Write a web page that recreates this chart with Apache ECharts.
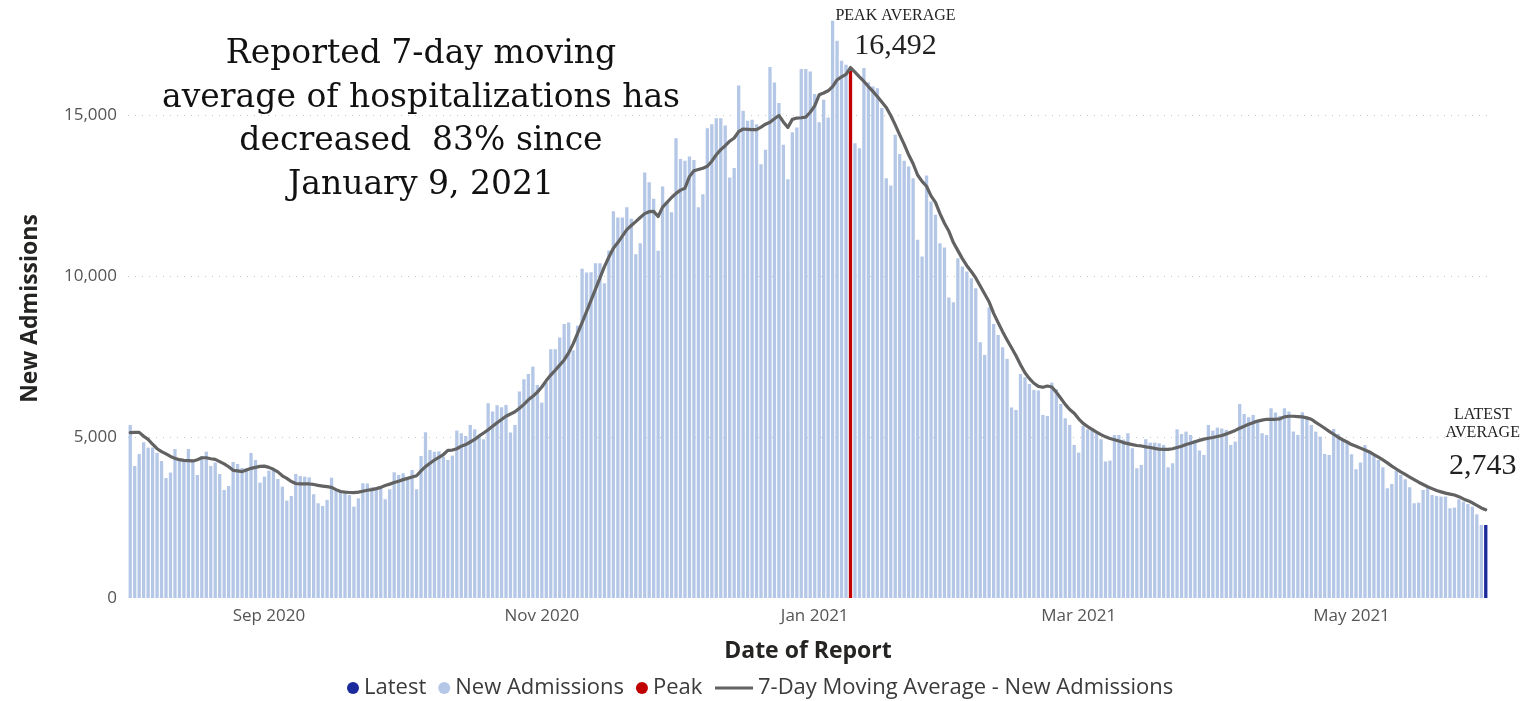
<!DOCTYPE html>
<html>
<head>
<meta charset="utf-8">
<script src="https://cdn.jsdelivr.net/npm/echarts@6/dist/echarts.min.js"></script>
<style>
html,body{margin:0;padding:0;background:#fff;}
#chart{width:1531px;height:701px;}
</style>
</head>
<body>
<div id="chart"></div>
<script>
// ---- data ----
const startDate = '2020-08-01';   // first day of report (304 daily categories)
const dayCount = 304;

const dailyAdmissions = [
5380,4105,4478,4842,4675,4675,4510,4260,3730,3900,
4630,4290,4260,4630,4240,3825,4416,4550,4105,4210,
3856,3360,3483,4230,4167,4043,4043,4510,4290,3587,
3773,3960,3960,3700,3463,3027,3172,3856,3794,3773,
3750,3225,2945,2860,3050,3740,3338,3300,3250,3200,
2840,3100,3567,3560,3442,3450,3480,3070,3380,3908,
3825,3877,3670,3980,3380,4416,5152,4600,4550,4560,
4395,4290,4426,5204,5121,5038,5380,5245,5017,4935,
6055,5795,5992,5930,6002,5142,5380,6417,6800,6966,
7194,6624,6075,6700,7734,7734,8096,8521,8563,7700,
8460,10232,10117,10129,10409,10409,9787,10800,12026,11830,
11830,12150,11787,10690,11030,13230,12928,12410,10792,12790,
12325,11995,14296,13650,13590,13725,13620,12150,12555,14607,
14731,14918,14918,14690,13073,13364,15932,15146,14835,14866,
14731,13488,13933,16505,16026,15385,14088,13021,14483,14628,
16443,16443,16370,15665,14794,15488,14938,17945,17323,16700,
16576,16450,14140,13985,16473,16036,15900,15850,15230,13053,
12822,14400,13800,13590,13415,13053,11134,10615,13135,12325,
11911,11030,10895,9340,9195,10564,10305,10150,9943,9632,
7952,7557,9040,8521,8180,7797,7433,5919,5847,6966,
6863,6655,6469,6448,5691,5660,6696,6490,6033,5587,
5380,4758,4520,5349,5245,5276,5121,4935,4240,4271,
5069,5069,4924,5121,4655,4033,4136,4935,4831,4831,
4810,4758,4064,4188,5245,5100,5173,5069,4914,4582,
4447,5380,5204,5297,5266,5225,4758,4862,6033,5722,
5620,5691,5483,5121,5069,5899,5763,5660,5899,5795,
5173,5069,5774,5620,5380,5173,5017,4478,4447,5256,
5100,4935,4831,4468,4002,4210,4758,4582,4416,4292,
4064,3411,3545,3960,3825,3690,3442,2945,2965,3360,
3411,3203,3172,3152,3152,2790,2810,3070,2996,2923,
2840,2600,2270,2270
];

const movingAverage = [
5140,5150,5150,5030,4930,4780,4640,4550,4480,4400,
4340,4300,4280,4270,4260,4300,4360,4360,4330,4310,
4240,4170,4080,3970,3950,3930,3980,4030,4060,4090,
4100,4060,4000,3920,3800,3720,3620,3560,3550,3545,
3545,3530,3500,3480,3460,3440,3370,3310,3290,3280,
3275,3290,3320,3350,3370,3400,3440,3500,3540,3590,
3630,3680,3720,3760,3800,3950,4085,4190,4290,4375,
4460,4590,4600,4640,4720,4770,4850,4930,5040,5130,
5230,5340,5450,5550,5650,5720,5790,5900,6020,6160,
6270,6400,6560,6760,6930,7080,7240,7400,7620,7900,
8230,8560,8900,9250,9600,9950,10300,10600,10875,11050,
11250,11450,11580,11700,11830,11950,12010,12020,11860,12150,
12300,12450,12580,12680,12740,13100,13280,13320,13360,13420,
13580,13780,13940,14060,14200,14300,14500,14580,14570,14560,
14560,14640,14730,14790,14900,15000,14800,14630,14880,14920,
14930,14950,15100,15300,15643,15700,15768,15900,16110,16200,
16280,16492,16350,16200,16058,15900,15750,15591,15420,15250,
15000,14710,14400,14100,13777,13500,13150,12950,12800,12500,
12300,11950,11650,11400,11050,10800,10550,10330,10150,9950,
9700,9450,9200,8850,8560,8280,8024,7780,7530,7250,
7000,6820,6676,6580,6550,6590,6560,6400,6210,6020,
5860,5744,5570,5430,5330,5245,5160,5080,5010,4960,
4920,4880,4831,4800,4770,4740,4727,4700,4680,4650,
4624,4620,4620,4640,4680,4720,4770,4810,4860,4900,
4940,4966,4990,5020,5050,5100,5150,5210,5276,5340,
5400,5452,5500,5530,5556,5556,5556,5570,5630,5650,
5650,5640,5630,5600,5556,5460,5370,5276,5180,5090,
4997,4920,4850,4770,4720,4660,4600,4540,4460,4380,
4292,4200,4100,4010,3920,3840,3760,3680,3600,3530,
3460,3400,3340,3300,3260,3230,3203,3150,3080,3027,
2960,2880,2800,2743
];

const peakDate = '2021-01-09';
const tickDates  = ['2020-09-01','2020-11-01','2021-01-01','2021-03-01','2021-05-01'];
const tickLabels = ['Sep 2020','Nov 2020','Jan 2021','Mar 2021','May 2021'];
const yTicks = [0, 5000, 10000, 15000];
const titleLines = ['Reported 7-day moving','average of hospitalizations has','decreased  83% since','January 9, 2021'];

// ---- build categories and series ----
const categories = [];
{
  const p = startDate.split('-').map(Number);
  for (let i = 0; i < dayCount; i++) {
    categories.push(new Date(Date.UTC(p[0], p[1]-1, p[2]+i)).toISOString().slice(0,10));
  }
}
const peakIndex = categories.indexOf(peakDate);
const latestIndex = categories.length - 1;
const newSeries = dailyAdmissions.map((v,i) => (i === peakIndex || i === latestIndex) ? null : v);
const peakSeries = dailyAdmissions.map((v,i) => i === peakIndex ? v : null);
const latestSeries = dailyAdmissions.map((v,i) => i === latestIndex ? v : null);
const fmt = v => v.toLocaleString('en-US');

const UI = '"Open Sans", "Noto Sans", sans-serif';
const SERIF = '"DejaVu Serif", "Liberation Serif", serif';
const SERIF2 = '"Liberation Serif", "DejaVu Serif", serif';

const chart = echarts.init(document.getElementById('chart'), null, {renderer:'canvas'});
chart.setOption({
  animation: false,
  backgroundColor: '#ffffff',
  grid: { left: 128, right: 43, top: 19, bottom: 103 },
  legend: [
    {
      data: [
        {name: 'Latest', icon: 'circle'},
        {name: 'New Admissions', icon: 'circle'},
        {name: 'Peak', icon: 'circle'}
      ],
      left: 342, top: 672, itemWidth: 12, itemHeight: 12, itemGap: 12,
      textStyle: {fontFamily: UI, fontSize: 22, color: '#3b3b3b'},
      selectedMode: false
    },
    {
      data: [{name: '7-Day Moving Average - New Admissions',
              icon: 'path://M0,0 L38,0 L38,3 L0,3 Z'}],
      left: 710, top: 672, itemWidth: 38, itemHeight: 12,
      textStyle: {fontFamily: UI, fontSize: 22, color: '#3b3b3b'},
      selectedMode: false
    }
  ],
  xAxis: {
    type: 'category',
    data: categories,
    boundaryGap: true,
    axisLine: {show: false},
    axisTick: {show: false},
    axisLabel: {
      interval: (i, v) => tickDates.indexOf(v) >= 0,
      formatter: v => tickLabels[tickDates.indexOf(v)] || '',
      fontFamily: UI, fontSize: 17, color: '#555555', margin: 10
    },
    name: 'Date of Report',
    nameLocation: 'middle',
    nameGap: 42,
    nameTextStyle: {fontFamily: UI, fontSize: 23, fontWeight: 'bold', color: '#252423'}
  },
  yAxis: {
    type: 'value',
    min: 0, max: 18000, interval: 5000,
    axisLine: {show: false},
    axisTick: {show: false},
    axisLabel: {
      showMaxLabel: false,
      formatter: v => yTicks.indexOf(v) >= 0 ? fmt(v) : '',
      fontFamily: UI, fontSize: 17, color: '#555555', margin: 11
    },
    splitLine: {show: true, showMinLine: false, showMaxLine: false,
      lineStyle: {color: '#c8c8c8', type: [1, 6], width: 1}},
    name: 'New Admissions',
    nameLocation: 'middle',
    nameGap: 86,
    nameTextStyle: {fontFamily: UI, fontSize: 23, fontWeight: 'bold', color: '#252423'}
  },
  series: [
    {
      name: 'New Admissions', type: 'bar', data: newSeries,
      itemStyle: {color: '#b4c7e7'}, barCategoryGap: '26%', barGap: '-100%', z: 2
    },
    {
      name: 'Peak', type: 'bar', data: peakSeries,
      itemStyle: {color: '#c00000'}, barGap: '-100%', z: 3
    },
    {
      name: 'Latest', type: 'bar', data: latestSeries,
      itemStyle: {color: '#1a2a9c'}, barGap: '-100%', z: 3
    },
    {
      name: '7-Day Moving Average - New Admissions', type: 'line', data: movingAverage,
      showSymbol: false, symbol: 'none', smooth: false, z: 5,
      lineStyle: {color: '#626262', width: 3.2, join: 'round', cap: 'round'},
      itemStyle: {color: '#626262'},
      markPoint: {
        symbol: 'circle', symbolSize: 0, silent: true,
        data: [
          {
            coord: [categories[peakIndex], movingAverage[peakIndex]],
            label: {
              show: true, position: 'top', offset: [45, 5],
              formatter: '{a|PEAK AVERAGE}\n{b|' + fmt(movingAverage[peakIndex]) + '}',
              rich: {
                a: {fontFamily: SERIF2, fontSize: 16, lineHeight: 18, color: '#222'},
                b: {fontFamily: SERIF2, fontSize: 30, lineHeight: 43, color: '#222'}
              }
            }
          },
          {
            coord: [categories[latestIndex], movingAverage[latestIndex]],
            label: {
              show: true, position: 'top', offset: [-3, -15],
              formatter: '{a|LATEST}\n{a|AVERAGE}\n{b|' + fmt(movingAverage[latestIndex]) + '}',
              rich: {
                a: {fontFamily: SERIF2, fontSize: 16, lineHeight: 18, color: '#222'},
                b: {fontFamily: SERIF2, fontSize: 30, lineHeight: 48, color: '#222'}
              }
            }
          }
        ]
      }
    }
  ],
  graphic: [
    {
      type: 'text', x: 421, y: 33, silent: true,
      style: {
        text: titleLines.join('\n'),
        fontFamily: SERIF, fontSize: 33, lineHeight: 43.5,
        align: 'center', verticalAlign: 'top', fill: '#111111'
      }
    }
  ]
});
</script>
</body>
</html>
